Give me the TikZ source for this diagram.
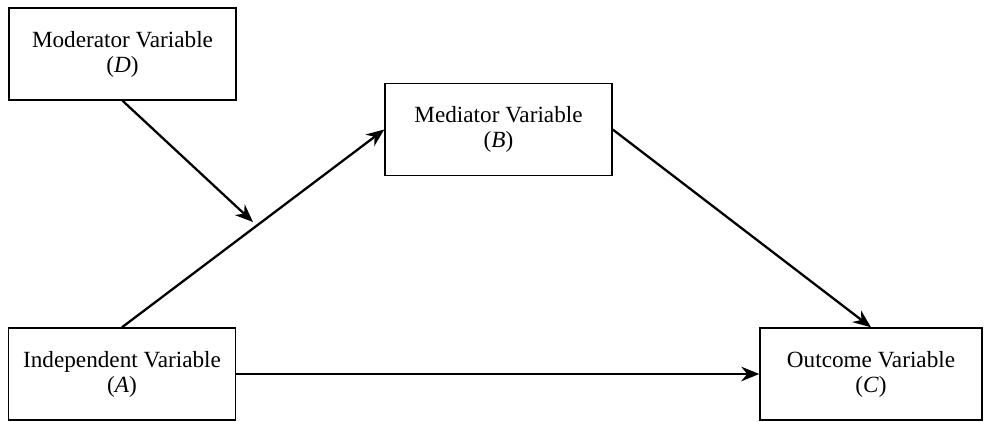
\documentclass[tikz,border=0pt]{standalone}
\usepackage{amsmath}
\usepackage{fontspec}
\setmainfont{Liberation Serif}
\usetikzlibrary{arrows.meta}

\begin{document}
\begin{tikzpicture}[
  varbox/.style={draw, line width=0.8pt, minimum width=4.54cm, minimum height=1.84cm,
    align=center, font=\fontsize{13.2}{14.2}\selectfont},
  link/.style={line width=1.3pt, -{Stealth[length=3.6mm, width=2.9mm]}}
]
\useasboundingbox (0,0) rectangle (19.72,8.44);
\node[varbox] (D) at (2.45,7.36) {Moderator Variable\\(\textit{D})};
\node[varbox] (B) at (9.97,5.85) {Mediator Variable\\(\textit{B})};
\node[varbox] (A) at (2.44,0.96) {Independent Variable\\(\textit{A})};
\node[varbox, minimum width=4.44cm] (C) at (17.42,0.96) {Outcome Variable\\(\textit{C})};
\coordinate (m) at (5.06,4.0);
\draw[link] (A.north) -- (B.west);
\draw[link] (D.south) -- (m);
\draw[link] (B.east) -- (C.north);
\draw[link] (A.east) -- (C.west);
\end{tikzpicture}
\end{document}
